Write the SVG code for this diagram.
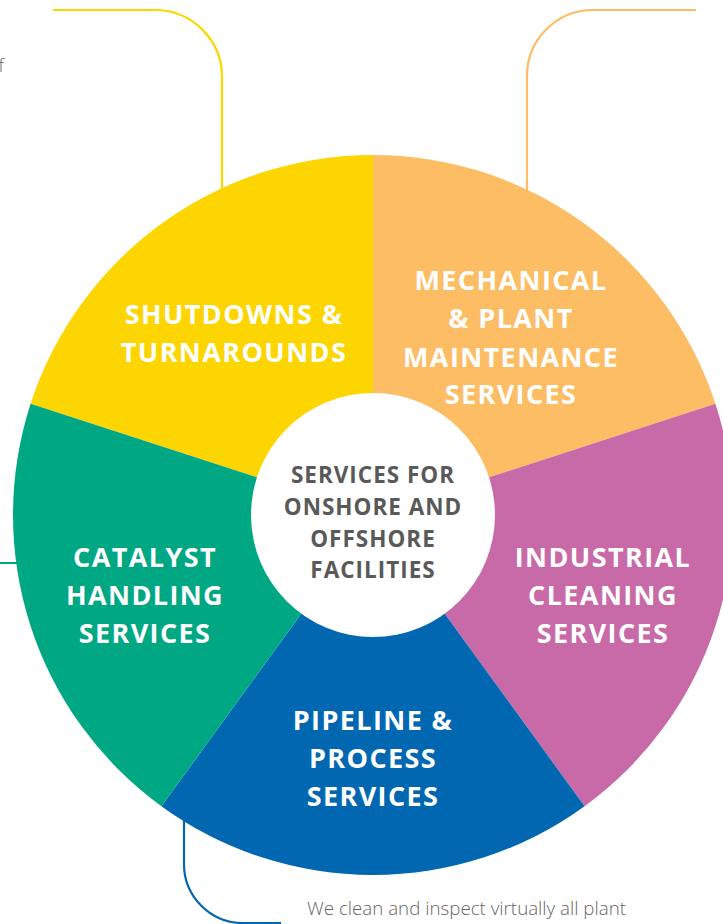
<svg xmlns="http://www.w3.org/2000/svg" width="723" height="924" viewBox="0 0 723 924">
<style>
.conn{fill:none;stroke-width:2.2}
.lbl{font-family:"Open Sans","Liberation Sans",sans-serif;font-weight:700;font-size:27px;fill:#fff;text-anchor:middle;letter-spacing:1.4px}
.ctr{font-family:"Open Sans","Liberation Sans",sans-serif;font-weight:700;font-size:22.5px;fill:#595959;text-anchor:middle;letter-spacing:1px}
.body{font-family:"Open Sans","Liberation Sans",sans-serif;font-weight:300;font-size:18px;fill:#666}
</style>
<rect width="723" height="924" fill="#fff"/>
<g id="connectors">
<path class="conn" stroke="#FDD500" d="M53,10 H155 A67,67 0 0 1 222,77 V220"/>
<path class="conn" stroke="#FDBD64" d="M696,10 H593 A66,66 0 0 0 527,76 V220"/>
<path class="conn" stroke="#00A783" d="M0,563 H40"/>
<path class="conn" stroke="#0067B0" d="M184,800 V864 A59,59 0 0 0 243,923 H281"/>
</g>
<g id="shutdowns">
<path fill="#FDD500" d="M373,515 L373,155 A360,360 0 0 0 30.6,403.8 Z"/>
<text class="lbl" x="234" y="324">SHUTDOWNS &amp;</text>
<text class="lbl" x="234" y="362">TURNAROUNDS</text>
</g>
<g id="mechanical">
<path fill="#FDBD64" d="M373,515 L373,155 A360,360 0 0 1 715.4,403.8 Z"/>
<text class="lbl" x="511" y="290">MECHANICAL</text>
<text class="lbl" x="511" y="328">&amp; PLANT</text>
<text class="lbl" x="511" y="367">MAINTENANCE</text>
<text class="lbl" x="511" y="404">SERVICES</text>
</g>
<g id="industrial">
<path fill="#C86AA8" d="M373,515 L715.4,403.8 A360,360 0 0 1 584.6,806.2 Z"/>
<text class="lbl" x="603" y="567">INDUSTRIAL</text>
<text class="lbl" x="603" y="605">CLEANING</text>
<text class="lbl" x="603" y="643">SERVICES</text>
</g>
<g id="pipeline">
<path fill="#0067B0" d="M373,515 L584.6,806.2 A360,360 0 0 1 161.4,806.2 Z"/>
<text class="lbl" x="373" y="730">PIPELINE &amp;</text>
<text class="lbl" x="373" y="768">PROCESS</text>
<text class="lbl" x="373" y="806">SERVICES</text>
</g>
<g id="catalyst">
<path fill="#00A783" d="M373,515 L161.4,806.2 A360,360 0 0 1 30.6,403.8 Z"/>
<text class="lbl" x="145" y="567">CATALYST</text>
<text class="lbl" x="145" y="605">HANDLING</text>
<text class="lbl" x="145" y="643">SERVICES</text>
</g>
<g id="center">
<circle cx="373" cy="515" r="122" fill="#fff"/>
<text class="ctr" x="373" y="483">SERVICES FOR</text>
<text class="ctr" x="373" y="515">ONSHORE AND</text>
<text class="ctr" x="373" y="547">OFFSHORE</text>
<text class="ctr" x="373" y="578">FACILITIES</text>
</g>
<g id="texts">
<text class="body" x="307" y="915" textLength="319" lengthAdjust="spacingAndGlyphs">We clean and inspect virtually all plant</text>
<text class="body" x="4" y="72" text-anchor="end">f</text>
</g>
</svg>
